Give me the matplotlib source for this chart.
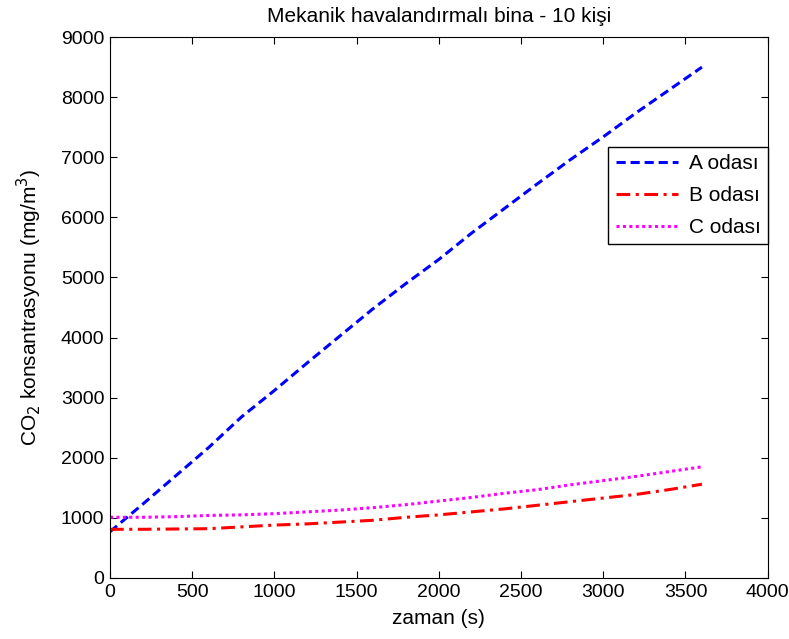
import matplotlib.pyplot as plt
import numpy as np

plt.rcParams['font.family'] = ['Liberation Sans', 'DejaVu Sans']

t = [0, 100, 200, 400, 600, 800, 1000, 1200, 1400, 1600, 1800, 2000,
     2200, 2400, 2600, 2800, 3000, 3200, 3400, 3600]
room_a = [770, 1000, 1230, 1700, 2170, 2680, 3120, 3580, 4030, 4480, 4900, 5300,
          5740, 6150, 6560, 6960, 7340, 7740, 8120, 8500]
room_b = [810, 810, 810, 815, 820, 850, 880, 900, 930, 960, 1010, 1050,
          1100, 1150, 1210, 1270, 1330, 1390, 1470, 1560]
room_c = [1010, 1010, 1010, 1020, 1040, 1050, 1070, 1100, 1130, 1170, 1220, 1280,
          1340, 1410, 1470, 1550, 1620, 1690, 1770, 1850]

fig = plt.figure(figsize=(7.89, 6.39), dpi=100)
ax = fig.add_axes([0.1394, 0.0955, 0.8336, 0.8465])

ax.plot(t, room_a, color='#0000ff', linestyle=(0, (3, 1.6)), linewidth=2.2, label='A odası')
ax.plot(t, room_b, color='#ff0000', linestyle=(0, (4.5, 1.8, 1, 1.8)), linewidth=2.2, label='B odası')
ax.plot(t, room_c, color='#ff00ff', linestyle=(0, (1, 1.1)), linewidth=2.2, label='C odası')

ax.set_xlim(0, 4000)
ax.set_ylim(0, 9000)
ax.set_xticks(np.arange(0, 4001, 500))
ax.set_yticks(np.arange(0, 9001, 1000))
ax.tick_params(direction='in', top=True, right=True, labelsize=14, length=5, pad=4)

ax.set_title('Mekanik havalandırmalı bina - 10 kişi', fontsize=15, pad=11)
ax.set_xlabel('zaman (s)', fontsize=15, labelpad=6)
ax.set_ylabel('CO$_2$ konsantrasyonu (mg/m$^3$)', fontsize=15, labelpad=12)

leg = ax.legend(loc='upper right', bbox_to_anchor=(1.0, 0.797), fontsize=15,
                fancybox=False, framealpha=1, edgecolor='black', borderaxespad=0,
                handlelength=3.0, handletextpad=0.5, borderpad=0.35, labelspacing=0.62)
leg.get_frame().set_linewidth(1.0)

fig.savefig('out.png', dpi=100)
